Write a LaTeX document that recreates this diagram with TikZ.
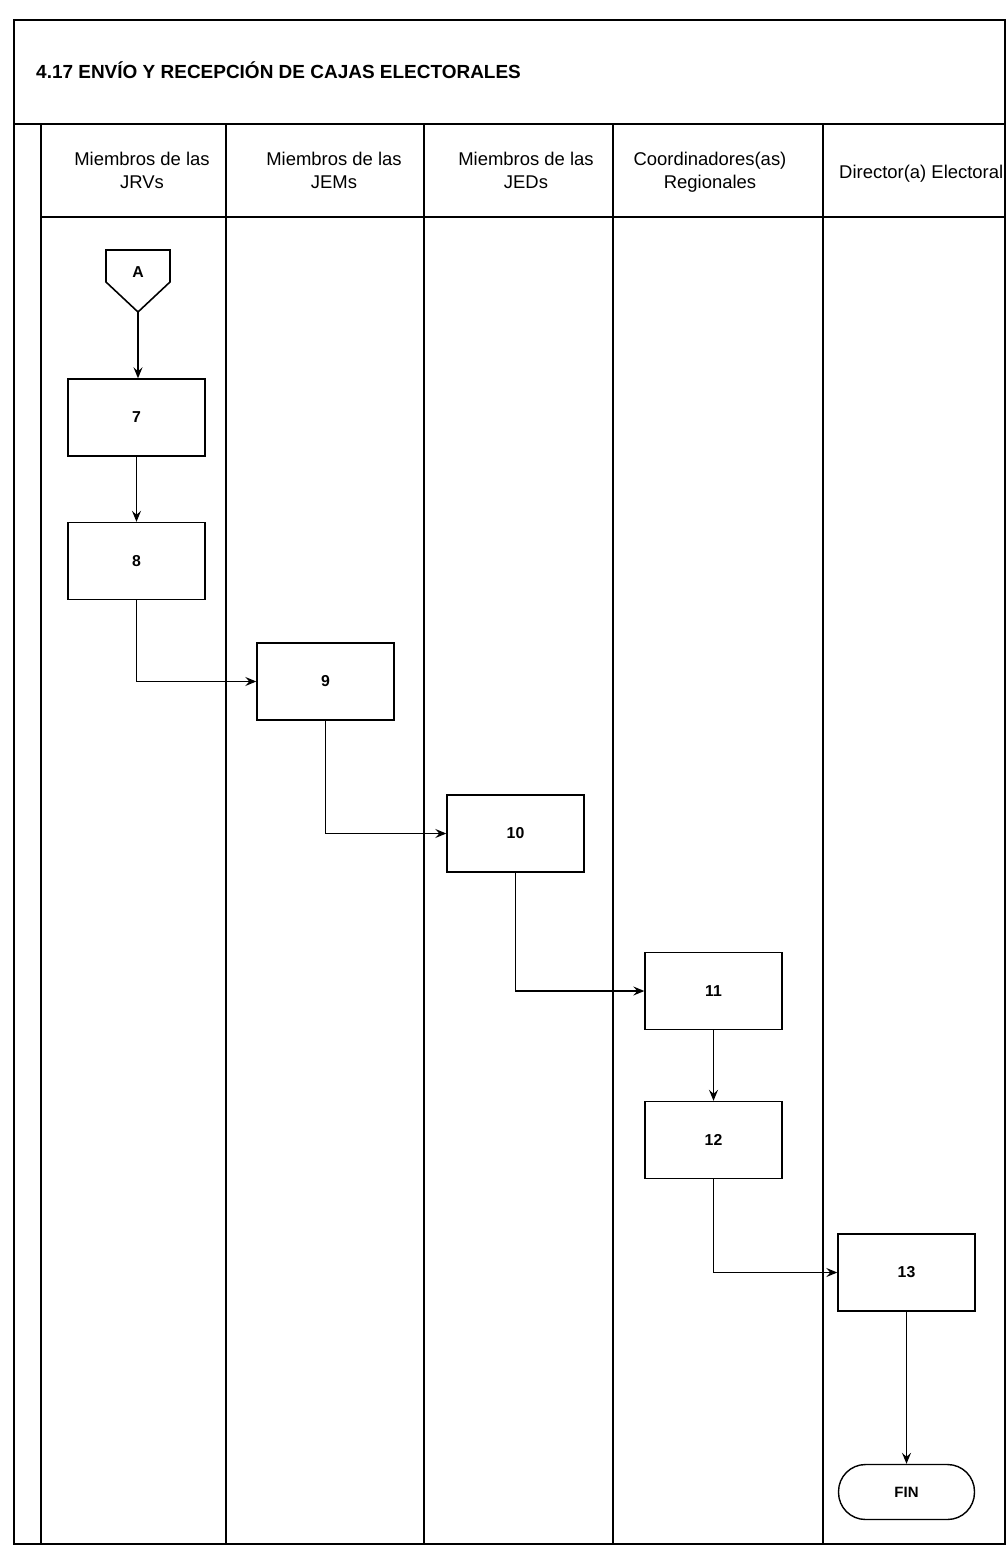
\documentclass[tikz,border=0pt]{standalone}
\usepackage{fontspec}
\setmainfont{Liberation Sans}
\usetikzlibrary{arrows.meta}

\begin{document}
\begin{tikzpicture}[x=0.02cm, y=-0.02cm,
        frame/.style={line width=1.1pt},
        lane/.style={line width=0.9pt},
        lanehead/.style={align=center, font=\fontsize{10.5}{13}\selectfont},
        stepbox/.style={draw, line width=0.8pt, minimum width=2.74cm, minimum height=1.54cm, font=\bfseries\fontsize{9}{11}\selectfont},
        endbox/.style={draw, line width=0.8pt, rounded corners=0.54cm, minimum width=2.72cm, minimum height=1.1cm, font=\bfseries\fontsize{8.5}{10}\selectfont},
        flow/.style={line width=0.7pt, -{Stealth[length=2.2mm, width=1.8mm, inset=0.8mm]}}]

        \useasboundingbox (0,0) rectangle (1005,1550);

        % Frame
        \draw[frame] (14,20) rectangle (1005,1544);
        \draw[frame] (14,124) -- (1005,124);
        \draw[lane] (41,217) -- (1005,217);
        \node[anchor=west, font=\bfseries\fontsize{10.8}{13}\selectfont] (title) at (30,70) {4.17 ENVÍO Y RECEPCIÓN DE CAJAS ELECTORALES};

        % Lanes
        \foreach \x in {41,226,424,613,823} {
            \draw[lane] (\x,124) -- (\x,1544);
        }

        % Headers
        \node[lanehead] (jrv) at (142,170) {Miembros de las\\JRVs};
        \node[lanehead] (jem) at (334,170) {Miembros de las\\JEMs};
        \node[lanehead] (jed) at (526,170) {Miembros de las\\JEDs};
        \node[lanehead] (coord) at (710,172) {Coordinadores(as)\\Regionales};
        \node[lanehead, anchor=west] (dir) at (833,174) {Director(a) Electoral};

        % Connector A
        \draw[lane] (106,250) -- (170,250) -- (170,282) -- (138,312) -- (106,282) -- cycle;
        \node[font=\bfseries\fontsize{9}{11}\selectfont] (A) at (138,272) {A};
        \coordinate (Atip) at (138,312);

        % Steps
        \foreach \n/\x/\y in {7/136.5/417.5, 8/136.5/561, 9/325.5/681.5, 10/515.5/833.5,
                              11/713.5/991, 12/713.5/1140, 13/906.5/1272.5} {
            \node[stepbox] (b\n) at (\x,\y) {\n};
        }
        \node[endbox] (fin) at (906.5,1492) {FIN};

        % Flow
        \draw[flow] (Atip) -- (Atip |- b7.north);
        \draw[flow] (b7.south) -- (b8.north);
        \draw[flow] (b8.south) |- (b9.west);
        \draw[flow] (b9.south) |- (b10.west);
        \draw[flow] (b10.south) |- (b11.west);
        \draw[flow] (b11.south) -- (b12.north);
        \draw[flow] (b12.south) |- (b13.west);
        \draw[flow] (b13.south) -- (fin.north);
    \end{tikzpicture}
\end{document}
